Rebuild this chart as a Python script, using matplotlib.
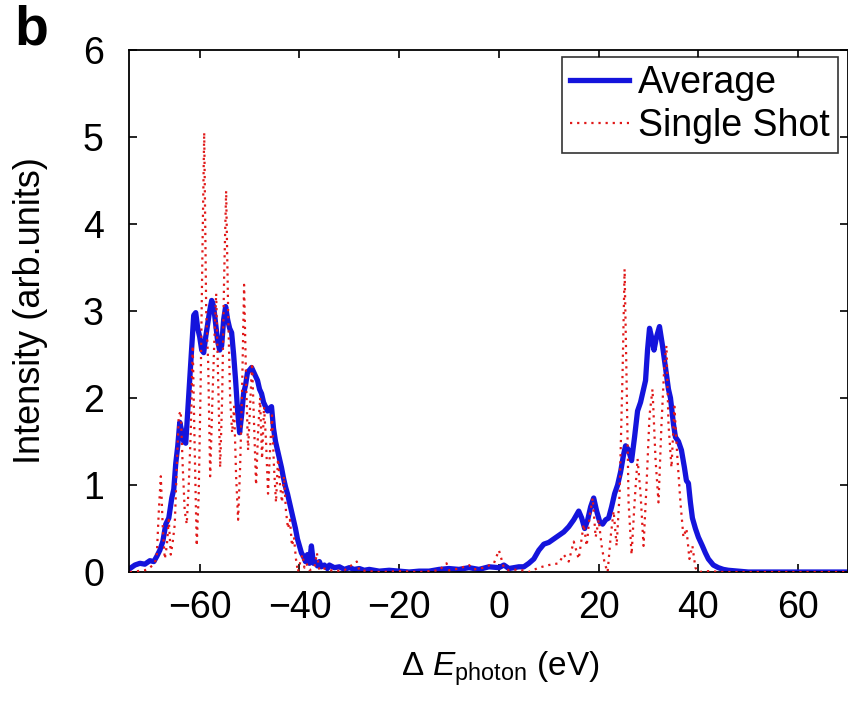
import matplotlib
matplotlib.use("Agg")
import matplotlib.pyplot as plt

plt.rcParams['font.family'] = ['Liberation Sans', 'DejaVu Sans']
plt.rcParams['mathtext.fontset'] = 'custom'
plt.rcParams['mathtext.rm'] = 'Liberation Sans'
plt.rcParams['mathtext.it'] = 'Liberation Sans:italic'

# average spectrum (blue)
avg_e = [-74, -73, -72, -71, -70, -69.2, -68.6, -68, -67.4, -66.8, -66.2, -65.6, -65.2,
         -64.8, -64.4, -64, -63.6, -63.2, -62.8, -62.4, -62, -61.6, -61.2, -60.8, -60.4,
         -60, -59.6, -59.2, -58.8, -58.4, -58, -57.6, -57.2, -56.8, -56.4, -56, -55.6,
         -55.2, -54.8, -54.4, -54, -53.6, -53.2, -52.8, -52.4, -52, -51.6, -51.2, -50.8,
         -50.4, -50, -49.6, -49.2, -48.8, -48.4, -48, -47.6, -47.2, -46.8, -46.4, -46,
         -45.6, -45.2, -44.8, -44.4, -44, -43.6, -43.2, -42.8, -42.4, -42, -41.6, -41.2,
         -40.8, -40.4, -40, -39.6, -39.2, -38.8, -38.4, -38, -37.6, -37.2, -36.8, -36.4,
         -36, -35.6, -35, -34.4, -34, -33, -32, -31, -30, -29, -28, -27, -26, -25, -24,
         -22, -20, -18, -16, -14, -12, -10, -8, -6, -4, -2, 0, 1, 2, 3, 4, 5, 6, 7, 8, 9,
         10, 11, 12, 13, 14, 15, 16, 16.6, 17.2, 17.8, 18.4, 19, 19.6, 20.2, 20.8, 21.4,
         22, 22.6, 23.2, 23.8, 24.4, 25, 25.4, 26, 26.6, 27.2, 27.8, 28.4, 29, 29.4, 29.8,
         30.2, 30.6, 31.1, 31.6, 32.2, 32.8, 33.4, 34, 34.4, 35, 35.4, 36, 36.6, 37.2,
         37.6, 38, 38.4, 38.8, 39.4, 40, 40.8, 41.4, 42, 43, 44, 45, 46, 48, 50, 55, 60,
         65, 70]
avg_i = [0.04, 0.08, 0.10, 0.09, 0.13, 0.12, 0.18, 0.25, 0.35, 0.55, 0.62, 0.85, 0.95,
         1.25, 1.45, 1.72, 1.62, 1.50, 1.48, 1.85, 2.2, 2.6, 2.95, 2.98, 2.8,
         2.7, 2.55, 2.52, 2.7, 2.85, 3.0, 3.12, 3.05, 2.85, 2.65, 2.55, 2.6,
         2.9, 3.05, 2.9, 2.8, 2.75, 2.5, 2.2, 1.85, 1.6, 1.8, 2.05, 2.15,
         2.3, 2.32, 2.35, 2.3, 2.25, 2.2, 2.1, 2.05, 1.95, 1.9, 1.85, 1.88,
         1.9, 1.65, 1.5, 1.4, 1.3, 1.2, 1.08, 0.98, 0.9, 0.8, 0.7, 0.6,
         0.5, 0.38, 0.3, 0.22, 0.18, 0.12, 0.2, 0.1, 0.3, 0.1, 0.12, 0.07,
         0.12, 0.06, 0.08, 0.04, 0.08, 0.05, 0.06, 0.03, 0.05, 0.03, 0.04, 0.02, 0.03, 0.02, 0.01,
         0.02, 0.01, 0.0, 0.01, 0.01, 0.03, 0.04, 0.03, 0.05, 0.03, 0.06, 0.05, 0.08, 0.04, 0.05, 0.06, 0.06, 0.1, 0.15, 0.25, 0.32,
         0.34, 0.38, 0.42, 0.46, 0.52, 0.6, 0.7, 0.62, 0.5, 0.6, 0.75, 0.85, 0.7, 0.58, 0.55, 0.6,
         0.62, 0.75, 0.9, 1.0, 1.15, 1.35, 1.45, 1.4, 1.28, 1.55, 1.85, 1.95, 2.1, 2.2, 2.55,
         2.8, 2.7, 2.55, 2.7, 2.82, 2.6, 2.35, 2.1, 2.0, 1.7, 1.55, 1.5, 1.4, 1.2,
         1.05, 1.02, 0.8, 0.62, 0.5, 0.4, 0.3, 0.22, 0.15, 0.08, 0.05, 0.03, 0.02, 0.01, 0.0, 0.0, 0.0,
         0.0, 0.0]

# single shot spectrum (red dotted)
shot_e = [-74, -71, -70, -69, -68.6, -68.2, -67.8, -67.4, -67, -66.6, -66.2, -65.8, -65.4,
          -65, -64.6, -64.2, -63.8, -63.4, -63, -62.6, -62.2, -61.8, -61.4, -61, -60.6,
          -60.2, -59.8, -59.4, -59.1, -58.7, -58.3, -57.9, -57.5, -57.1, -56.7, -56.3,
          -55.9, -55.5, -55.1, -54.7, -54.3, -53.9, -53.5, -53.1, -52.7, -52.3, -51.9,
          -51.5, -51.1, -50.7, -50.3, -49.9, -49.5, -49.1, -48.7, -48.3, -47.9, -47.5,
          -47.1, -46.7, -46.3, -45.9, -45.5, -45.1, -44.7, -44.3, -43.9, -43.5, -43.1,
          -42.7, -42.3, -41.9, -41.5, -41.1, -40.7, -40.3, -39.9, -39.4, -39, -38.6, -38,
          -37, -36.5, -36, -35, -33, -31, -28.5, -28, -26, -24, -20, -16, -12, -10.5, -10,
          -8, -6, -5, -3, -1, 0, 0.5, 1, 2, 4, 6, 8, 10, 12, 13, 14, 15, 16, 17, 17.6,
          18.2, 18.8, 19.4, 20, 20.6, 21.2, 21.8, 22.4, 23, 23.6, 24.2, 24.8, 25.2, 25.6,
          26, 26.6, 27.2, 27.8, 28.4, 29, 29.6, 30.2, 30.8, 31.4, 32, 32.6, 33.2, 33.6,
          34, 34.6, 35.2, 35.8, 36.4, 37, 37.6, 38.2, 38.8, 39.4, 40, 42, 45, 50, 70]
shot_i = [0.0, 0.02, 0.05, 0.1, 0.2, 0.7, 1.1, 0.5, 0.15, 0.3, 0.6, 0.2, 0.35,
          0.55, 1.2, 1.8, 1.85, 1.2, 0.7, 0.55, 1.0, 1.6, 2.6, 1.4, 0.3,
          0.9, 2.2, 3.9, 5.05, 3.0, 2.4, 1.1, 1.9, 2.6, 3.2, 2.2,
          1.2, 2.0, 3.4, 4.38, 3.0, 2.0, 1.6, 1.9, 1.1, 0.6, 1.2,
          2.1, 3.3, 2.2, 1.4, 1.9, 2.4, 1.7, 1.0, 1.6, 2.0, 1.3,
          1.9, 1.5, 0.9, 1.4, 1.8, 1.2, 0.8, 1.3, 1.0, 0.8, 1.1,
          0.7, 0.5, 0.6, 0.3, 0.4, 0.15, 0.0, 0.1, 0.2, 0.05, 0.1, 0.02,
          0.05, 0.22, 0.02, 0.04, 0.01, 0.02, 0.12, 0.02, 0.01, 0.0, 0.01, 0.0, 0.02, 0.1, 0.02,
          0.04, 0.08, 0.03, 0.05, 0.1, 0.25, 0.15, 0.05, 0.02, 0.03, 0.0, 0.05, 0.08, 0.1, 0.2, 0.12, 0.35, 0.15, 0.55, 0.3,
          0.65, 0.85, 0.4, 0.6, 0.3, 0.1, 0.0, 0.4, 0.7, 0.3, 0.9, 2.3, 3.48, 2.2,
          0.8, 0.2, 0.8, 1.3, 0.9, 0.3, 1.0, 1.8, 2.1, 1.3, 0.8, 1.7, 2.4, 2.6,
          1.7, 1.2, 1.9, 1.3, 0.8, 0.4, 0.5, 0.15, 0.3, 0.05, 0.0, 0.01, 0.0, 0.0, 0.0]

xticks = [-60, -40, -20, 0, 20, 40, 60]
xtick_labels = ['\u221260', '\u221240', '\u221220', '0', '20', '40', '60']
yticks = [0, 1, 2, 3, 4, 5, 6]

fig = plt.figure(figsize=(8.48, 7.01), dpi=100)
ax = fig.add_axes([0.152, 0.184, 0.848, 0.745])

ax.plot(avg_e, avg_i, color='#1414dc', lw=3.8, label='Average', zorder=2)
ax.plot(shot_e, shot_i, color='#e01818', lw=1.6, linestyle=(0, (1, 2.2)),
        label='Single Shot', zorder=3)

ax.set_xlim(-74.2, 70)
ax.set_ylim(0, 6)
ax.set_xticks(xticks)
ax.set_yticks(yticks)
ax.set_xticklabels(xtick_labels)
ax.tick_params(direction='in', length=6, width=1.2, labelsize=27, top=True, right=True)
ax.tick_params(axis='x', pad=13)
ax.tick_params(axis='y', pad=18)
for s in ax.spines.values():
    s.set_linewidth(1.3)

ax.set_xlabel(r'$\Delta$ $E_{\rm photon}$ (eV)', fontsize=24)
ax.set_ylabel('Intensity (arb.units)', fontsize=26)
ax.xaxis.set_label_coords(0.516, -0.148)
ax.yaxis.set_label_coords(-0.113, 0.5)

leg = ax.legend(loc='upper right', fontsize=27, frameon=True, fancybox=False,
                borderpad=0.22, handlelength=1.55, handletextpad=0.25, labelspacing=0.2,
                borderaxespad=0.0, bbox_to_anchor=(0.986, 0.987))
leg.get_frame().set_edgecolor('black')
leg.get_frame().set_linewidth(1.2)

fig.text(0.037, 0.994, 'b', fontsize=40, fontweight='bold', va='top', ha='center')

fig.savefig('out.png', dpi=100)
